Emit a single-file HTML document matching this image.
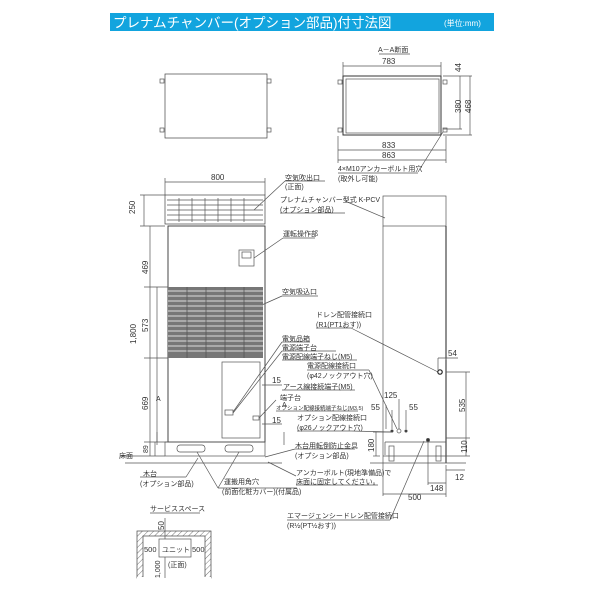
<!DOCTYPE html>
<html><head><meta charset="utf-8"><style>
html,body{margin:0;padding:0;background:#fff;width:600px;height:600px;overflow:hidden}
svg text{font-family:"Liberation Sans","Noto Sans CJK JP",sans-serif;fill:#333}
</style></head><body>
<svg width="600" height="600" viewBox="0 0 600 600" xmlns="http://www.w3.org/2000/svg">
<defs>
<pattern id="h" width="4" height="4" patternUnits="userSpaceOnUse" patternTransform="rotate(45)"><line x1="0" y1="0" x2="0" y2="4" stroke="#555" stroke-width="0.8"/></pattern>
</defs>
<rect x="110" y="13" width="384" height="18" fill="#12a4de"/>
<text x="113" y="27.5" font-size="13.5" style="fill:#fff">プレナムチャンバー(オプション部品)付寸法図</text>
<text x="444" y="26" font-size="8" style="fill:#fff">(単位:mm)</text>

<g stroke="#555" stroke-width="0.7" fill="none">
<rect x="165" y="74" width="102" height="64" stroke="#444"/>
<rect x="160" y="79" width="4" height="4"/><rect x="267" y="79" width="4" height="4"/>
<rect x="160" y="128" width="4" height="4"/><rect x="267" y="128" width="4" height="4"/>
<rect x="343" y="76" width="98" height="59" stroke="#333" stroke-width="1"/>
<rect x="346" y="79" width="93" height="54"/>
<rect x="338" y="80" width="4" height="4"/><rect x="443" y="80" width="4" height="4"/>
<rect x="338" y="128" width="4" height="4"/><rect x="443" y="128" width="4" height="4"/>
<line x1="343" y1="66" x2="441" y2="66"/><line x1="343" y1="62" x2="343" y2="76"/><line x1="441" y1="62" x2="441" y2="76"/>
<line x1="338" y1="150" x2="446" y2="150"/><line x1="338" y1="160" x2="446" y2="160"/>
<line x1="338" y1="136" x2="338" y2="163"/><line x1="446" y1="136" x2="446" y2="163"/>
<line x1="443" y1="76" x2="472" y2="76"/><line x1="443" y1="129" x2="462" y2="129"/><line x1="443" y1="135" x2="472" y2="135"/>
<line x1="460" y1="76" x2="460" y2="129"/><line x1="470" y1="76" x2="470" y2="135"/>
<line x1="443" y1="132" x2="418" y2="172"/><line x1="338" y1="173" x2="418" y2="173"/>
<line x1="379" y1="54" x2="410" y2="54"/>

<line x1="165" y1="182" x2="265" y2="182"/>
<line x1="165" y1="178" x2="165" y2="195"/><line x1="265" y1="178" x2="265" y2="195"/>
<rect x="165" y="195" width="100" height="29" stroke="#444"/>
<line x1="167" y1="200" x2="263" y2="200"/><line x1="167" y1="205" x2="263" y2="205"/><line x1="167" y1="210" x2="263" y2="210"/><line x1="167" y1="215" x2="263" y2="215"/><line x1="167" y1="220" x2="263" y2="220"/>
<line x1="179" y1="198" x2="179" y2="222"/><line x1="192" y1="198" x2="192" y2="222"/><line x1="205" y1="198" x2="205" y2="222"/><line x1="218" y1="198" x2="218" y2="222"/><line x1="231" y1="198" x2="231" y2="222"/><line x1="244" y1="198" x2="244" y2="222"/>
<rect x="168" y="226" width="97" height="216" stroke="#333" stroke-width="0.9"/>
<rect x="239" y="250" width="15" height="16"/><rect x="242" y="252" width="9" height="6"/>
<rect x="222" y="362" width="38" height="76"/>
<rect x="225" y="410" width="8" height="5"/><rect x="253" y="416" width="6" height="4"/>
<rect x="165" y="442" width="100" height="14"/>
<rect x="177" y="445" width="28" height="7" rx="3"/><rect x="225" y="445" width="28" height="7" rx="3"/>
<line x1="125" y1="463" x2="282" y2="463"/>
<line x1="140" y1="226" x2="165" y2="226"/><line x1="140" y1="195" x2="165" y2="195"/>
<line x1="144" y1="195" x2="144" y2="226"/>
<line x1="150" y1="226" x2="150" y2="456"/>
<line x1="144" y1="287" x2="168" y2="287"/><line x1="144" y1="358" x2="168" y2="358"/>
<line x1="144" y1="442" x2="168" y2="442"/><line x1="120" y1="456" x2="165" y2="456"/>
<line x1="157" y1="287" x2="157" y2="442"/>
<line x1="155" y1="442" x2="155" y2="456"/>
<line x1="157" y1="432" x2="157" y2="445"/><line x1="284" y1="432" x2="284" y2="445"/>
<line x1="254" y1="210" x2="285" y2="181"/><line x1="285" y1="181" x2="325" y2="181"/>
<line x1="254" y1="258" x2="283" y2="238"/><line x1="283" y1="238" x2="315" y2="238"/>
<line x1="255" y1="308" x2="282" y2="296"/><line x1="282" y1="296" x2="318" y2="296"/>
<line x1="233" y1="412" x2="282" y2="342"/><line x1="282" y1="342" x2="310" y2="342"/>
<line x1="233" y1="413" x2="282" y2="351"/><line x1="282" y1="351" x2="336" y2="351"/>
<line x1="282" y1="360" x2="357" y2="360"/>
<line x1="282" y1="390" x2="355" y2="390"/><line x1="262" y1="385" x2="282" y2="385"/>
<line x1="259" y1="418" x2="276" y2="400"/><line x1="276" y1="411" x2="358" y2="411"/>
<line x1="262" y1="424" x2="282" y2="424"/>
<line x1="265" y1="457" x2="295" y2="449"/><line x1="295" y1="449" x2="355" y2="449"/>
<line x1="268" y1="462" x2="296" y2="476"/><line x1="296" y1="485" x2="378" y2="485"/>
<line x1="197" y1="452" x2="218" y2="488"/><line x1="239" y1="452" x2="218" y2="488"/><line x1="218" y1="488" x2="297" y2="488"/>
<line x1="198" y1="458" x2="186" y2="477"/><line x1="140" y1="477" x2="186" y2="477"/>
<line x1="307" y1="370" x2="369" y2="370"/><line x1="369" y1="370" x2="397" y2="429"/>
<line x1="297" y1="431" x2="351" y2="431"/><line x1="351" y1="431" x2="392" y2="432"/>
<line x1="316" y1="328" x2="351" y2="328"/><line x1="351" y1="328" x2="438" y2="372"/>
<line x1="424" y1="441" x2="390" y2="520"/><line x1="287" y1="520" x2="390" y2="520"/>
<line x1="280" y1="213" x2="345" y2="213"/><line x1="345" y1="201" x2="385" y2="218"/>
<rect x="383" y="196" width="63" height="30"/>
<line x1="383" y1="226" x2="383" y2="496"/><line x1="446" y1="226" x2="446" y2="463" stroke="#222" stroke-width="1"/>
<line x1="383" y1="456" x2="446" y2="456"/>
<path d="M385 442 V455 M385 442 H446"/>
<rect x="389" y="446" width="5" height="15"/><rect x="436" y="446" width="5" height="15"/>
<line x1="370" y1="463" x2="466" y2="463"/>
<circle cx="440" cy="372" r="2.2" stroke="#222" stroke-width="1.2"/>
<circle cx="399" cy="431" r="2" /><circle cx="392" cy="431" r="1.2" fill="#333"/><circle cx="406" cy="431" r="1.2" fill="#333"/>
<circle cx="428" cy="440" r="1.6" fill="#333"/>
<line x1="446" y1="372" x2="470" y2="372"/><line x1="446" y1="438" x2="470" y2="438"/><line x1="446" y1="456" x2="470" y2="456"/>
<line x1="466" y1="372" x2="466" y2="456"/>
<line x1="438" y1="358" x2="438" y2="370"/><line x1="446" y1="358" x2="446" y2="360"/><line x1="438" y1="358" x2="458" y2="358"/>
<line x1="383" y1="494" x2="446" y2="494"/><line x1="446" y1="465" x2="446" y2="497"/>
<line x1="428" y1="442" x2="428" y2="485"/><line x1="428" y1="483" x2="446" y2="483"/>
<line x1="446" y1="470" x2="465" y2="470"/>
<line x1="373" y1="432" x2="392" y2="432"/><line x1="373" y1="456" x2="380" y2="456"/><line x1="376" y1="432" x2="376" y2="456"/>
<line x1="399" y1="399" x2="399" y2="429"/><line x1="386" y1="405" x2="386" y2="429"/><line x1="392" y1="410" x2="392" y2="429"/><line x1="406" y1="410" x2="406" y2="429"/>
<line x1="150" y1="513" x2="200" y2="513"/>
<rect x="137" y="531" width="74" height="47" fill="url(#h)" stroke="#444"/>
<rect x="143" y="536" width="62" height="42" fill="#fff" stroke="#444"/>
<rect x="137" y="577" width="74" height="2" fill="#fff" stroke="none"/>
<rect x="159" y="539" width="32" height="18" fill="#fff"/>
<line x1="165" y1="518" x2="165" y2="539"/><line x1="165" y1="557" x2="165" y2="578"/>
</g>
<g font-size="7">
<text x="378" y="52">A－A断面</text>
<text x="382" y="64" font-size="8">783</text>
<text x="382" y="148" font-size="8">833</text>
<text x="382" y="158" font-size="8">863</text>
<text x="338" y="171">4×M10アンカーボルト用穴</text>
<text x="338" y="181">(取外し可能)</text>
<text x="211" y="180" font-size="8">800</text>
<text x="285" y="180">空気吹出口</text><text x="285" y="189">(正面)</text>
<text x="280" y="202">プレナムチャンバー型式  K-PCV</text><text x="280" y="212">(オプション部品)</text>
<text x="283" y="236">運転操作部</text>
<text x="282" y="294">空気吸込口</text>
<text x="316" y="317">ドレン配管接続口</text><text x="316" y="327">(R1(PT1おす))</text>
<text x="282" y="341">電気品箱</text>
<text x="282" y="350">電源端子台</text>
<text x="282" y="359">電源配線端子ねじ(M5)</text>
<text x="307" y="368">電源配線接続口</text><text x="307" y="378">(φ42ノックアウト穴)</text>
<text x="272" y="383" font-size="8">15</text>
<text x="283" y="389">アース線接続端子(M5)</text>
<text x="280" y="400">端子台</text>
<text x="276" y="410" font-size="5.5">オプション配線接続端子ねじ(M3.5)</text>
<text x="272" y="423" font-size="8">15</text>
<text x="297" y="420">オプション配線接続口</text><text x="297" y="430">(φ26ノックアウト穴)</text>
<text x="295" y="448">木台用転倒防止金具</text><text x="295" y="458">(オプション部品)</text>
<text x="119" y="458">床面</text>
<text x="143" y="476">木台</text><text x="140" y="486">(オプション部品)</text>
<text x="224" y="484">運搬用角穴</text><text x="222" y="494">(前面化粧カバー)(付属品)</text>
<text x="296" y="475">アンカーボルト(現地準備品)で</text><text x="296" y="484">床面に固定してください。</text>
<text x="287" y="518">エマージェンシードレン配管接続口</text><text x="287" y="528">(R½(PT½おす))</text>
<text x="150" y="511">サービススペース</text>
<text x="162" y="552">ユニット</text>
<text x="144" y="552" font-size="7.5">500</text><text x="192" y="552" font-size="7.5">500</text>
<text x="168" y="567">(正面)</text>
<text x="156" y="401" font-size="7">A</text><text x="282" y="407" font-size="7">A</text>
<text x="448" y="356" font-size="8">54</text>
<text x="384" y="398" font-size="8">125</text>
<text x="371" y="410" font-size="8">55</text><text x="409" y="410" font-size="8">55</text>
<text x="455" y="480" font-size="8">12</text>
<text x="430" y="491" font-size="8">148</text>
<text x="408" y="500" font-size="8">500</text>
</g>
<g font-size="8">
<text transform="translate(135,214) rotate(-90)">250</text>
<text transform="translate(136,344) rotate(-90)">1,800</text>
<text transform="translate(148,274) rotate(-90)">469</text>
<text transform="translate(148,332) rotate(-90)">573</text>
<text transform="translate(148,410) rotate(-90)">669</text>
<text transform="translate(148,453) rotate(-90)" font-size="7">89</text>
<text transform="translate(461,72) rotate(-90)">44</text>
<text transform="translate(461,113) rotate(-90)">380</text>
<text transform="translate(471,113) rotate(-90)">468</text>
<text transform="translate(465,412) rotate(-90)">535</text>
<text transform="translate(467,453) rotate(-90)">110</text>
<text transform="translate(374,452) rotate(-90)">180</text>
<text transform="translate(164,530) rotate(-90)">50</text>
<text transform="translate(160,578) rotate(-90)" font-size="7">1,000</text>
</g>
<rect x="168" y="287" width="95" height="71" fill="#777"/>
<g stroke="#ddd" stroke-width="1">
<line x1="168" y1="291" x2="263" y2="291"/><line x1="168" y1="296" x2="263" y2="296"/><line x1="168" y1="301" x2="263" y2="301"/><line x1="168" y1="306" x2="263" y2="306"/><line x1="168" y1="311" x2="263" y2="311"/><line x1="168" y1="316" x2="263" y2="316"/><line x1="168" y1="321" x2="263" y2="321"/><line x1="168" y1="326" x2="263" y2="326"/><line x1="168" y1="331" x2="263" y2="331"/><line x1="168" y1="336" x2="263" y2="336"/><line x1="168" y1="341" x2="263" y2="341"/><line x1="168" y1="346" x2="263" y2="346"/><line x1="168" y1="351" x2="263" y2="351"/>
</g>
<g stroke="#555" stroke-width="0.8"><line x1="187" y1="287" x2="187" y2="358"/><line x1="206" y1="287" x2="206" y2="358"/><line x1="225" y1="287" x2="225" y2="358"/><line x1="244" y1="287" x2="244" y2="358"/></g>
</svg>
</body></html>
